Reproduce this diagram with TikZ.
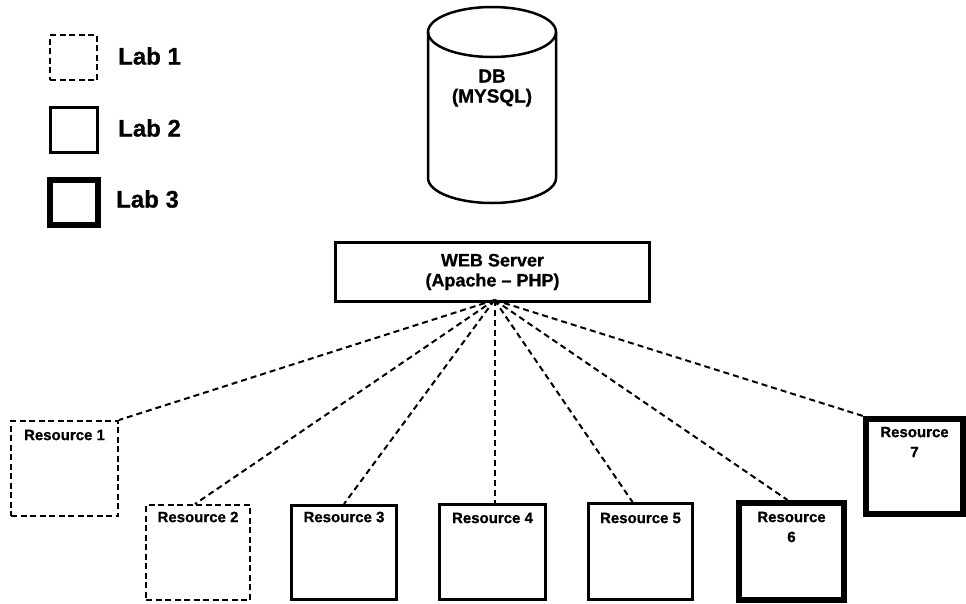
\documentclass[tikz,border=0pt]{standalone}
\usepackage{fontspec}
\setmainfont{Liberation Sans}[BoldFeatures={FakeBold=0.8}]
\usetikzlibrary{calc}
\begin{document}
\begin{tikzpicture}[x=1pt,y=-1pt,
  box/.style={draw=black,fill=white,rectangle,inner sep=0pt},
  labone/.style={box,line width=2pt,dash pattern=on 6pt off 3.5pt},
  labtwo/.style={box,line width=3pt},
  labthree/.style={box,line width=6pt},
  legendtext/.style={anchor=west,inner sep=0pt,font=\fontsize{24}{28}\selectfont\bfseries},
  restext/.style={inner sep=0pt,align=center,font=\fontsize{15}{20}\selectfont\bfseries},
  link/.style={line width=2pt,dash pattern=on 6pt off 4pt}]
\useasboundingbox (0,0) rectangle (966,603);

% legend
\node[labone,minimum width=47pt,minimum height=45pt] (l1) at (73.5,57.5) {};
\node[labtwo,minimum width=47pt,minimum height=45pt] (l2) at (74,130) {};
\node[labthree,minimum width=48pt,minimum height=45pt] (l3) at (74,202.5) {};
\node[legendtext] (l1t) at (118,56) {Lab 1};
\node[legendtext] (l2t) at (118,128) {Lab 2};
\node[legendtext] (l3t) at (116,199) {Lab 3};

% database cylinder
\draw[line width=2.5pt,fill=white] (428,32) -- (428,178)
  arc[start angle=180,end angle=360,x radius=64pt,y radius=25pt] -- (556,32);
\draw[line width=2.5pt] (492,32) ellipse[x radius=64pt,y radius=25pt];
\node[inner sep=0pt,align=center,font=\fontsize{19}{20}\selectfont\bfseries] (db) at (492,88) {DB\\(MYSQL)};

% web server
\node[box,line width=3pt,minimum width=314pt,minimum height=59pt,align=center,
  font=\fontsize{18}{20}\selectfont\bfseries] (ws) at (492.5,272) {WEB Server\\(Apache -- PHP)};

% resources
\node[labone,minimum width=107pt,minimum height=95pt] (r1) at (64.5,468.5) {};
\node[labone,minimum width=104pt,minimum height=95pt] (r2) at (198,552.5) {};
\node[labtwo,minimum width=105pt,minimum height=94pt] (r3) at (344,552.5) {};
\node[labtwo,minimum width=106pt,minimum height=95pt] (r4) at (492.5,552) {};
\node[labtwo,minimum width=104pt,minimum height=96pt] (r5) at (640.5,551.5) {};
\node[labthree,minimum width=105pt,minimum height=97pt] (r6) at (791.5,551.5) {};
\node[labthree,minimum width=97pt,minimum height=95pt] (r7) at (914.5,466.5) {};

\node[restext] (r1t) at ([yshift=-15pt]r1.north) {Resource 1};
\node[restext] (r2t) at ([yshift=-13pt]r2.north) {Resource 2};
\node[restext] (r3t) at ([yshift=-13pt]r3.north) {Resource 3};
\node[restext] (r4t) at ([yshift=-15pt]r4.north) {Resource 4};
\node[restext] (r5t) at ([yshift=-16pt]r5.north) {Resource 5};
\node[restext] (r6t) at ([yshift=-27pt]r6.north) {Resource\\6};
\node[restext] (r7t) at ([yshift=-26pt]r7.north) {Resource\\7};

% links from the web server
\coordinate (hub) at ([xshift=2pt,yshift=3pt]ws.south);
\draw[link] (hub) -- (r1.north east);
\draw[link] (hub) -- ([xshift=-3pt]r2.north);
\draw[link] (hub) -- (r3.north);
\draw[link] (hub) -- ([xshift=2pt]r4.north);
\draw[link] (hub) -- ([xshift=-8pt]r5.north);
\draw[link] (hub) -- ([xshift=-4pt]r6.north);
\draw[link] (hub) -- (r7.north west);
\end{tikzpicture}
\end{document}
